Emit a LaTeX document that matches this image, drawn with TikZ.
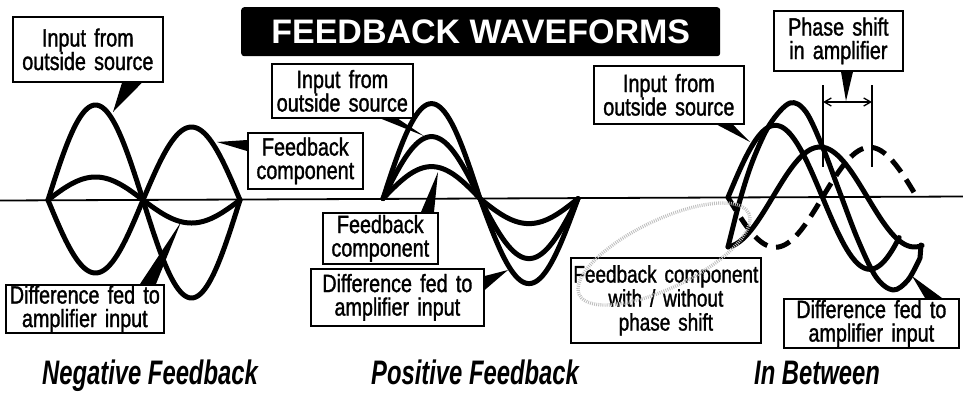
\documentclass[tikz,border=0pt]{standalone}
\usepackage{fontspec}
\setmainfont{Liberation Sans}
\newfontfamily\lblfont[FakeStretch=0.79,WordSpace=1.5,FakeBold=1.3]{Liberation Sans}
\newfontfamily\capfont[FakeStretch=0.7]{Liberation Sans}
\usetikzlibrary{arrows.meta,calc}
\begin{document}
\begin{tikzpicture}[x=1pt,y=-1pt,
  wave/.style={line width=5pt,line cap=round,line join=round},
  dwave/.style={wave,line cap=butt,dash pattern=on 15pt off 9pt},
  lbl/.style={draw,line width=1.7pt,fill=white,inner sep=0pt,align=center,
    font=\lblfont\fontsize{25}{23.5}\selectfont,anchor=north west},
  ptr/.style={fill=black},
  captxt/.style={font=\capfont\bfseries\itshape\fontsize{34}{34}\selectfont,anchor=base},
  thinl/.style={line width=1.3pt},
  stip/.style={gray!50,line width=3.4pt,dash pattern=on 0.9pt off 1.2pt}]
\useasboundingbox (0,0) rectangle (963,392);
\fill[white] (0,0) rectangle (963,392);

% axis
\coordinate (axL) at (0,200.5);
\coordinate (axR) at (963,196.5);
\draw[line width=1.8pt] (axL) -- (axR);

% ---- Negative feedback waves
\draw[wave] plot[domain=0:180,samples=45] ({48+\x/180*95},{200-95*sin(\x)})
  -- plot[domain=180:360,samples=45] ({143+(\x-180)/180*97},{200-98*sin(\x)});
\draw[wave] plot[domain=0:180,samples=45] ({48+\x/180*95},{200+73*sin(\x)})
  -- plot[domain=180:360,samples=45] ({143+(\x-180)/180*97},{200+73*sin(\x)});
\draw[wave] plot[domain=0:180,samples=45] ({48+\x/180*95},{200-23*sin(\x)})
  -- plot[domain=180:360,samples=45] ({143+(\x-180)/180*97},{200-23*sin(\x)});

% ---- Positive feedback waves
\draw[wave] plot[domain=0:180,samples=45] ({383+\x/180*97},{198.6-95*sin(\x)})
  -- plot[domain=180:360,samples=45] ({480+(\x-180)/180*98},{198.6-85*sin(\x)});
\draw[wave] plot[domain=0:180,samples=45] ({383+\x/180*97},{198.6-62*sin(\x)})
  -- plot[domain=180:360,samples=45] ({480+(\x-180)/180*98},{198.6-60*sin(\x)});
\draw[wave] plot[domain=0:180,samples=45] ({383+\x/180*97},{198.6-32*sin(\x)})
  -- plot[domain=180:360,samples=45] ({480+(\x-180)/180*98},{198.6-25*sin(\x)});

% ---- In between waves
\draw[wave] plot[domain=0:326,samples=70] ({728+\x/360*189},{197.3-72*sin(\x)});
\draw[dwave] plot[domain=0:360,samples=80] ({728+\x/360*189},{197.3+50*sin(\x)});
\draw[wave] plot[domain=728:922,samples=70] (\x,{197+50*cos((\x-725.5)/94.5*180)});
\draw[wave] plot[smooth,tension=0.55] coordinates {(728,247) (740,200) (753,160) (770,124)
  (790,103) (806,112) (823,148) (840,193) (858,240) (876,277) (893,290) (908,280) (920,258)}
  -- (921,245);

% phase shift marker
\coordinate (p1t) at (823,85); \coordinate (p1b) at (823,167);
\coordinate (p2t) at (872,85); \coordinate (p2b) at (872,167);
\coordinate (pa) at (823,102); \coordinate (pb) at (872,102);
\draw[thinl] (p1t) -- (p1b);
\draw[thinl] (p2t) -- (p2b);
\draw[thinl,{Straight Barb[length=7pt,width=8pt]}-{Straight Barb[length=7pt,width=8pt]}] (pa) -- (pb);

% ---- title
\node[fill=black,rounded corners=3pt,minimum width=479pt,minimum height=49pt,inner sep=0pt,
  anchor=north west,text=white,font=\bfseries\fontsize{34}{34}\selectfont] (title) at (241,7)
  {FEEDBACK WAVEFORMS};

% ---- boxes
\node[lbl,minimum width=150pt,minimum height=65pt] (boxA) at (12,16) {Input from\\outside source};
\node[lbl,minimum width=115pt,minimum height=56pt] (boxB) at (247,132) {Feedback\\component};
\node[lbl,minimum width=158pt,minimum height=48pt] (boxC) at (5,284) {Difference fed to\\amplifier input};
\node[lbl,minimum width=141pt,minimum height=54pt] (boxD) at (271,63) {Input from\\outside source};
\node[lbl,minimum width=115pt,minimum height=51pt] (boxE) at (322,212) {Feedback\\component};
\node[lbl,minimum width=173pt,minimum height=57pt] (boxF) at (310,268) {Difference fed to\\amplifier input};
\node[lbl,minimum width=129pt,minimum height=60pt] (boxG) at (773,10) {Phase shift\\in amplifier};
\node[lbl,minimum width=150pt,minimum height=58pt] (boxH) at (593,65) {Input from\\outside source};
\node[lbl,minimum width=175pt,minimum height=49pt] (boxI) at (783,298) {Difference fed to\\amplifier input};
\node[lbl,minimum width=190pt,minimum height=85pt,font=\lblfont\fontsize{24}{24}\selectfont] (boxJ) at (570,257) {Feedback component\\with / without\\phase shift};

% ---- pointer wedges
\coordinate (tA) at (113,112);
\fill[ptr] (tA) -- ($(boxA.south west)+(110,0)$) -- ($(boxA.south west)+(130,0)$) -- cycle;
\coordinate (tB) at (217,142);
\fill[ptr] (tB) -- ($(boxB.north west)+(0,8)$) -- ($(boxB.north west)+(0,19)$) -- cycle;
\coordinate (tC) at (181,222);
\fill[ptr] (tC) -- ($(boxC.north west)+(135,0)$) -- ($(boxC.north west)+(151,0)$) -- cycle;
\coordinate (tD) at (424,136);
\fill[ptr] (tD) -- ($(boxD.south west)+(110,0)$) -- ($(boxD.south west)+(127,0)$) -- cycle;
\coordinate (tE) at (438,172);
\fill[ptr] (tE) -- ($(boxE.north west)+(99,0)$) -- ($(boxE.north west)+(112,0)$) -- cycle;
\coordinate (tF) at (508,270);
\fill[ptr] (tF) -- ($(boxF.north east)+(0,8)$) -- ($(boxF.north east)+(0,22)$) -- cycle;
\coordinate (tG) at (846,101);
\fill[ptr] (tG) -- ($(boxG.south west)+(68,0)$) -- ($(boxG.south west)+(80,0)$) -- cycle;
\coordinate (tH) at (750,142);
\fill[ptr] (tH) -- ($(boxH.south west)+(124,0)$) -- ($(boxH.south west)+(140,0)$) -- cycle;
\coordinate (tI) at (912,276);
\fill[ptr] (tI) -- ($(boxI.north west)+(142,0)$) -- ($(boxI.north west)+(159,0)$) -- cycle;

% stippled loop of the with/without label
\draw[stip,rotate around={25.7:(664,254)}] (664,254) ellipse [x radius=94, y radius=34];

% ---- captions
\node[captxt] (negcap) at (150,384) {Negative Feedback};
\node[captxt] (poscap) at (475,384) {Positive Feedback};
\node[captxt] (betcap) at (817,384) {In Between};
\end{tikzpicture}
\end{document}
